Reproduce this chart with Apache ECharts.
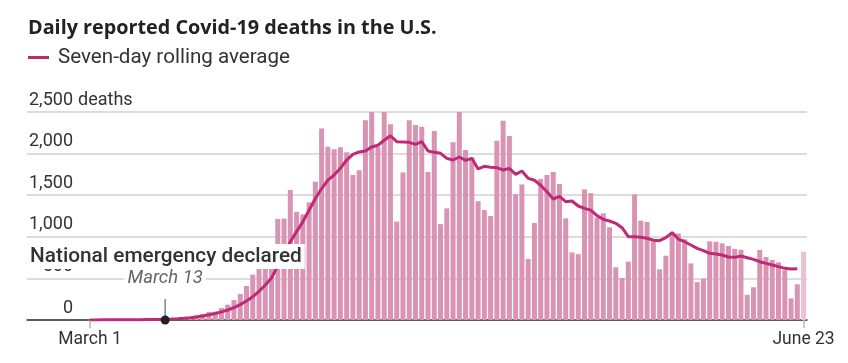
<!DOCTYPE html>
<html>
<head>
<meta charset="utf-8">
<script src="https://cdn.jsdelivr.net/npm/echarts@6/dist/echarts.min.js"></script>
<style>
  html, body { margin: 0; padding: 0; background: #fff; }
  #chart { width: 848px; height: 363px; }
</style>
</head>
<body>
<div id="chart"></div>
<script>
// ---- DATA ----
// Day index 0 = March 1, index 114 = June 23
const titleText = "Daily reported Covid-19 deaths in the U.S.";
const legendText = "Seven-day rolling average";
const xTickDays = [0, 114];
const xTickLabels = ["March 1", "June 23"];
const yTicks = [0, 500, 1000, 1500, 2000, 2500];
const yUnit = "deaths";
const annotationDay = 12;
const annotationTitle = "National emergency declared";
const annotationDate = "March 13";

const deaths = [
  1, 1, 2, 3, 2, 4, 3, 5, 4, 5, 7, 10,
  10, 12, 16, 23, 30, 56, 72, 96, 100, 144, 184, 240, 312, 409, 545, 660, 650, 790,
  1214, 1218, 1562, 1300, 1270, 1414, 1662, 2303, 2083, 2051,
  2075, 2015, 1743, 1801, 2400, 2520, 2083, 2600, 2352, 1182,
  1773, 2402, 2344, 2324, 1779, 2273, 1152, 1342, 2135, 2628,
  2043, 1953, 1428, 1322, 1250, 2153, 2394, 2213, 1512, 1630,
  733, 1166, 1695, 1743, 1779, 1634, 1222, 813, 791, 1570,
  1524, 1230, 1282, 1114, 633, 505, 701, 1510, 1194, 1178,
  943, 609, 773, 1020, 1040, 970, 680, 455, 497, 945,
  940, 921, 889, 855, 845, 302, 393, 841, 757, 721,
  693, 600, 260, 429, 821
];

const avg7 = [
  1, 1, 2, 2, 2, 3, 3, 4, 4, 5, 6, 7,
  9, 11, 14, 20, 28, 37, 48, 62, 78, 98, 120, 150, 185, 228, 280, 345, 420, 505,
  650, 800, 940, 1062, 1180, 1320, 1460, 1580, 1680, 1743,
  1823, 1923, 1990, 2020, 2030, 2080, 2100, 2160, 2215, 2143,
  2140, 2135, 2111, 2143, 2031, 2015, 2003, 1943, 1923, 1959,
  1919, 1943, 1815, 1847, 1835, 1831, 1803, 1823, 1751, 1791,
  1703, 1680, 1620, 1542, 1454, 1486, 1422, 1430, 1370, 1342,
  1320, 1254, 1210, 1190, 1162, 1110, 1002, 1002, 994, 982,
  958, 954, 990, 1050, 973, 941, 901, 861, 833, 801,
  793, 781, 757, 753, 769, 749, 729, 701, 681, 661,
  641, 621, 613, 617
];

// ---- CHART ----
const FONT = 'Roboto, "Noto Sans", sans-serif';
const TITLE_FONT = '"Open Sans", Roboto, sans-serif';
const BAR = '#d993b3';
const BAR_LAST = '#ebc2d4';
const LINE = '#bf2a76';

const chart = echarts.init(document.getElementById('chart'), null, { renderer: 'canvas' });

const barData = deaths.map((v, i) => ({
  value: [i, v],
  itemStyle: { color: i === deaths.length - 1 ? BAR_LAST : BAR }
}));
const lineData = avg7.map((v, i) => [i, v]);

chart.setOption({
  animation: false,
  textStyle: { fontFamily: FONT },
  title: {
    text: titleText,
    left: 23, top: 13,
    textStyle: { fontFamily: TITLE_FONT, fontSize: 19.8, fontWeight: 'bold', color: '#222' }
  },
  legend: {
    data: [{ name: legendText, icon: 'rect' }],
    left: 28, top: 47, padding: 0,
    itemWidth: 21, itemHeight: 3,
    textStyle: { fontFamily: FONT, fontSize: 20.6, color: '#333', padding: [0, 0, 0, 4] }
  },
  grid: { left: 27, right: 41, top: 112, bottom: 43 },
  xAxis: {
    type: 'value',
    min: -10.07, max: 114.55,
    splitLine: { show: false },
    axisLine: { show: true, onZero: false, lineStyle: { color: '#333', width: 1.5 } },
    axisTick: { show: true, customValues: xTickDays, length: 8, lineStyle: { color: '#bbb', width: 1.5 } },
    axisLabel: {
      customValues: xTickDays,
      formatter: v => xTickLabels[xTickDays.indexOf(Math.round(v))] || '',
      fontFamily: FONT, fontSize: 17.5, color: '#333', margin: 11
    }
  },
  yAxis: {
    type: 'value',
    min: yTicks[0], max: yTicks[yTicks.length - 1], interval: 500,
    axisLine: { show: false },
    axisTick: { show: false },
    splitLine: { lineStyle: { color: '#d0d0d0', width: 1.5 } },
    axisLabel: {
      formatter: v => v.toLocaleString('en-US'),
      fontFamily: FONT, fontSize: 18, color: '#333',
      align: 'right', verticalAlign: 'bottom', margin: -46,
      padding: [0, 0, 3, 0]
    }
  },
  series: [
    {
      type: 'bar',
      name: 'Daily deaths',
      data: barData,
      barWidth: 5,
      z: 2
    },
    {
      type: 'line',
      name: legendText,
      data: lineData,
      showSymbol: false,
      color: LINE,
      lineStyle: { color: LINE, width: 3 },
      z: 3
    }
  ]
});

// Annotations placed through the chart's own scales
const p0 = chart.convertToPixel({ gridIndex: 0 }, [annotationDay, 0]);
const p500 = chart.convertToPixel({ gridIndex: 0 }, [annotationDay, 500]);
const pTop = chart.convertToPixel({ gridIndex: 0 }, [0, 2500]);
chart.setOption({
  graphic: [
    {
      type: 'line', z: 50,
      shape: { x1: p0[0], y1: p0[1], x2: p0[0], y2: p0[1] - 21 },
      style: { stroke: '#666', lineWidth: 1.2 }
    },
    {
      type: 'circle', z: 51,
      shape: { cx: p0[0], cy: p0[1], r: 4.5 },
      style: { fill: '#222' }
    },
    {
      type: 'text', z: 52,
      x: p0[0], y: p500[1],
      style: {
        text: annotationDate, fill: '#666',
        font: 'italic 18.5px ' + FONT,
        align: 'center', verticalAlign: 'middle',
        backgroundColor: '#fff', padding: [0, 3]
      }
    },
    {
      type: 'text', z: 60,
      x: 27, y: 256.5,
      style: {
        text: annotationTitle, fill: '#333',
        font: '500 20.8px ' + FONT,
        align: 'left', verticalAlign: 'middle',
        backgroundColor: '#fff', padding: [2, 3, 2, 3]
      }
    },
    {
      type: 'text', z: 52,
      x: 78, y: pTop[1] - 3,
      style: {
        text: yUnit, fill: '#333',
        font: '18px ' + FONT,
        align: 'left', verticalAlign: 'bottom'
      }
    }
  ]
});
</script>
</body>
</html>
